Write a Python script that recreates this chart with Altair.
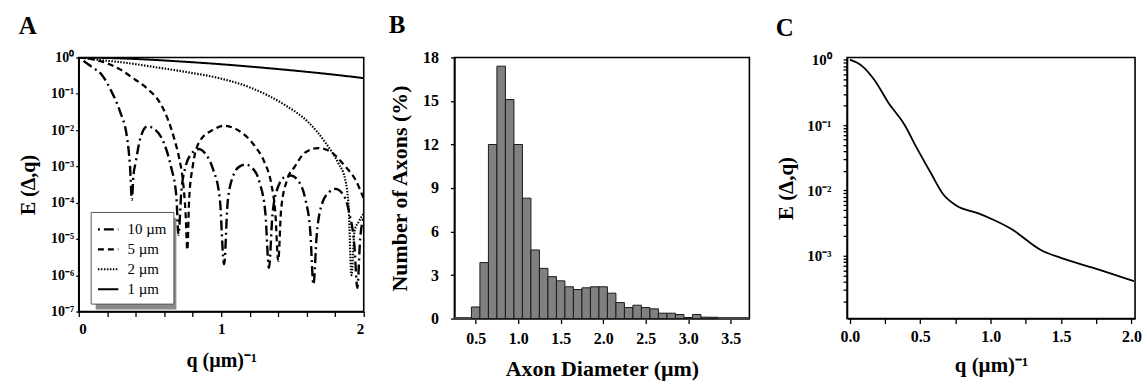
import altair as alt
import pandas as pd

FONT = "Liberation Serif"

# ---------------- Panel A data ----------------
series_labels = ["10 µm", "5 µm", "2 µm", "1 µm"]

q10 = [0.00, 0.05, 0.10, 0.16, 0.23, 0.29, 0.34, 0.36, 0.373, 0.383, 0.40, 0.434, 0.481, 0.54, 0.60,
       0.647, 0.685, 0.70, 0.72, 0.75, 0.79, 0.84, 0.89, 0.94, 0.99, 1.02, 1.045, 1.08, 1.13, 1.17,
       1.22, 1.27, 1.31, 1.335, 1.36, 1.40, 1.45, 1.49, 1.54, 1.59, 1.625, 1.647, 1.67, 1.71, 1.76,
       1.80, 1.85, 1.90, 1.935, 1.955, 1.975, 2.00]
e10 = [1.0, 0.72, 0.52, 0.34, 0.115, 0.032, 5.8e-3, 1.0e-3, 1.2e-4, 5.0e-4, 1.3e-3, 6.3e-3, 1.26e-2, 1.0e-2, 4.2e-3,
       1.0e-3, 1.5e-4, 1.3e-5, 2.0e-4, 1.0e-3, 2.2e-3, 3.0e-3, 2.2e-3, 8.9e-4, 1.3e-4, 2.0e-6, 1.0e-4, 5.0e-4, 1.0e-3, 1.12e-3,
       8.9e-4, 3.5e-4, 5.0e-5, 1.6e-6, 5.0e-5, 2.8e-4, 5.2e-4, 5.6e-4, 4.0e-4, 1.26e-4, 1.6e-5, 5.6e-7, 1.26e-5, 1.0e-4, 2.0e-4,
       2.4e-4, 1.8e-4, 5.0e-5, 6.3e-6, 4.5e-7, 1.0e-5, 4.0e-5]

q5 = [0.00, 0.10, 0.19, 0.29, 0.375, 0.493, 0.564, 0.623, 0.67, 0.706, 0.73, 0.75, 0.762,
      0.775, 0.80, 0.85, 0.94, 1.02, 1.116, 1.234, 1.305, 1.35, 1.38, 1.40,
      1.42, 1.46, 1.517, 1.588, 1.68, 1.776, 1.87, 1.94, 2.00]
e5 = [1.0, 0.89, 0.71, 0.47, 0.28, 0.126, 0.062, 0.021, 5.8e-3, 1.6e-3, 4.4e-4, 5.0e-5, 5.0e-6,
      1.26e-4, 1.0e-3, 5.0e-3, 1.0e-2, 1.32e-2, 1.0e-2, 3.7e-3, 1.26e-3, 3.5e-4, 5.0e-5, 2.5e-6,
      6.3e-5, 4.0e-4, 1.0e-3, 2.4e-3, 3.2e-3, 2.4e-3, 1.0e-3, 4.4e-4, 1.3e-4]

q2 = [0.00, 0.15, 0.30, 0.50, 0.75, 0.975, 1.21, 1.447, 1.61, 1.73, 1.82, 1.87, 1.895, 1.914, 1.935, 1.965, 2.00]
e2 = [1.0, 0.85, 0.74, 0.57, 0.40, 0.275, 0.145, 0.049, 0.0166, 4.6e-3, 1.26e-3, 4.4e-4, 6.3e-5, 1.0e-6, 1.6e-5, 3.0e-5, 5.0e-5]

q1 = [0.00, 0.25, 0.50, 0.75, 1.00, 1.25, 1.50, 1.75, 2.00]
e1 = [1.0, 0.955, 0.87, 0.76, 0.65, 0.54, 0.44, 0.35, 0.27]

# ---------------- Panel B data ----------------
diam = [0.5, 0.6, 0.7, 0.8, 0.9, 1.0, 1.1, 1.2, 1.3, 1.4, 1.5, 1.6, 1.7, 1.8, 1.9, 2.0, 2.1,
        2.2, 2.3, 2.4, 2.5, 2.6, 2.7, 2.8, 2.9, 3.0, 3.1, 3.2, 3.3]
pct = [0.8, 3.86, 12.0, 17.4, 15.1, 12.0, 8.3, 4.73, 3.46, 2.89, 2.6, 2.19, 2.0, 2.12, 2.19, 2.19, 1.75,
       1.1, 0.76, 0.92, 0.76, 0.67, 0.37, 0.37, 0.28, 0.07, 0.28, 0.1, 0.09]

# ---------------- Panel C data ----------------
qc = [0.0, 0.083, 0.177, 0.271, 0.389, 0.472, 0.578, 0.66, 0.755, 0.908, 1.003, 1.144, 1.356, 1.498, 1.734, 2.017]
ec = [1.0, 0.81, 0.48, 0.224, 0.1, 0.046, 0.018, 8.9e-3, 5.9e-3, 4.5e-3, 3.7e-3, 2.6e-3, 1.23e-3, 9.3e-4, 6.5e-4, 4.1e-4]

# ---------------- build tables ----------------
rows = []
for lab, qs, es in zip(series_labels, [q10, q5, q2, q1], [e10, e5, e2, e1]):
    for q, e in zip(qs, es):
        rows.append({"series": lab, "q": q, "E": e})
dfA = pd.DataFrame(rows)
dfB = pd.DataFrame({"d": diam, "pct": pct})
dfC = pd.DataFrame({"q": qc, "E": ec})

sup_expr = ("'10' + ['\u2070','\u207b\u00b9','\u207b\u00b2','\u207b\u00b3','\u207b\u2074',"
            "'\u207b\u2075','\u207b\u2076','\u207b\u2077'][round(-log(datum.value)/LN10)]")

def panel_title(letter):
    return alt.TitleParams(letter, anchor="start", frame="bounds", font=FONT, fontSize=25,
                           fontWeight="bold", color="black", offset=12)

# ---------------- Panel A ----------------
dash_range = [[2, 4, 10, 4], [6, 4], [1.5, 1.5], [1, 0]]
width_range = [2.4, 2.0, 1.6, 2.0]

shadow = alt.Chart(pd.DataFrame({"a": [0]})).mark_rect(color="#8a8a8a").encode(
    x=alt.value(17), x2=alt.value(98), y=alt.value(161), y2=alt.value(253)
)

linesA = alt.Chart(dfA).mark_line(interpolate="monotone", color="black", clip=True).encode(
    x=alt.X("q:Q", scale=alt.Scale(domain=[0, 2], nice=False, zero=False),
            axis=alt.Axis(values=[0, 0.2, 0.4, 0.6, 0.8, 1, 1.2, 1.4, 1.6, 1.8, 2],
                          labelExpr="datum.value % 1 === 0 ? datum.value : ''",
                          title="q (µm)\u207b\u00b9", titlePadding=14, labelFontSize=15, tickSize=5,
                          titleFontSize=20, labelPadding=5)),
    y=alt.Y("E:Q", scale=alt.Scale(type="log", domain=[1e-7, 1], nice=False),
            axis=alt.Axis(values=[1, 0.1, 0.01, 0.001, 1e-4, 1e-5, 1e-6, 1e-7], labelExpr=sup_expr,
                          title="E (\u0394,q)", labelFontSize=14, tickSize=3, titlePadding=12,
                          titleFontSize=20, labelPadding=2)),
    strokeDash=alt.StrokeDash("series:N", sort=series_labels,
                              scale=alt.Scale(domain=series_labels, range=dash_range),
                              legend=alt.Legend(orient="none", legendX=12, legendY=155, title=None,
                                                fillColor="white", strokeColor="#555", padding=6,
                                                symbolType="stroke", symbolSize=420,
                                                symbolStrokeColor="black", symbolStrokeWidth=2.2,
                                                labelFont=FONT, labelFontSize=15, labelFontWeight="normal",
                                                labelColor="black", rowPadding=0, labelOffset=8)),
    strokeWidth=alt.StrokeWidth("series:N", scale=alt.Scale(domain=series_labels, range=width_range),
                                legend=None),
)

chartA = alt.layer(shadow, linesA).properties(width=286, height=255, title=panel_title("A"))

# ---------------- Panel B ----------------
base_rule = alt.Chart(pd.DataFrame({"y": [0]})).mark_rule(color="#444", strokeWidth=3).encode(
    y=alt.Y("y:Q")
)
bars = alt.Chart(dfB).transform_calculate(
    lo="datum.d - 0.05", hi="datum.d + 0.05"
).mark_rect(color="#808080", stroke="#1a1a1a", strokeWidth=1).encode(
    x=alt.X("lo:Q", scale=alt.Scale(domain=[0.25, 3.72], nice=False, zero=False),
            axis=alt.Axis(values=[0.5, 1.0, 1.5, 2.0, 2.5, 3.0, 3.5], format=".1f",
                          title="Axon Diameter (µm)", titlePadding=12, labelFontSize=16, tickSize=5,
                          titleFontSize=22, labelPadding=7)),
    x2="hi:Q",
    y=alt.Y("pct:Q", scale=alt.Scale(domain=[0, 18], nice=False),
            axis=alt.Axis(values=[0, 1.5, 3, 4.5, 6, 7.5, 9, 10.5, 12, 13.5, 15, 16.5, 18],
                          labelExpr="datum.value % 3 === 0 ? datum.value : ''",
                          title="Number of Axons (%)", labelFontSize=16, tickSize=4, titlePadding=11,
                          titleFontSize=22, labelPadding=12)),
    y2=alt.datum(0),
)
chartB = alt.layer(base_rule, bars).properties(width=296, height=262, title=panel_title("B"))

# ---------------- Panel C ----------------
c_minor = []
for dec in [1, 0.1, 0.01, 0.001, 0.0001]:
    for m in [1, 2, 3, 4, 5, 6, 7, 8, 9]:
        v = dec * m
        if 1.1e-4 <= v <= 1.08:
            c_minor.append(v)

lineC = alt.Chart(dfC).mark_line(interpolate="monotone", color="black", strokeWidth=1.8).encode(
    x=alt.X("q:Q", scale=alt.Scale(domain=[-0.02, 2.025], nice=False, zero=False),
            axis=alt.Axis(values=[0, 0.25, 0.5, 0.75, 1.0, 1.25, 1.5, 1.75, 2.0],
                          labelExpr="datum.value % 0.5 === 0 ? format(datum.value, '.1f') : ''",
                          title="q (µm)\u207b\u00b9", titlePadding=10, labelFontSize=16, tickSize=5,
                          titleFontSize=21, labelPadding=5)),
    y=alt.Y("E:Q", scale=alt.Scale(type="log", domain=[1.1e-4, 1.08], nice=False),
            axis=alt.Axis(values=c_minor,
                          labelExpr="indexof([1, 0.1, 0.01, 0.001], datum.value) >= 0 ? " + sup_expr + " : ''",
                          title="E (\u0394,q)", labelFontSize=15, tickSize=4, titlePadding=10,
                          titleFontSize=21, labelPadding=12)),
)
chartC = lineC.properties(width=289, height=262, title=panel_title("C"))

chart = alt.hconcat(chartA, chartB, chartC, spacing=22).properties(
    padding={"left": 18, "top": 11, "right": 4, "bottom": 4}
).configure_axis(
    labelFont=FONT, labelFontWeight="bold", labelColor="black",
    titleFont=FONT, titleFontWeight="bold", titleFontSize=18, titleColor="black",
    domainColor="black", domainWidth=1.5, tickColor="black", tickWidth=1.3, grid=False, labelPadding=3
).configure_view(stroke="black", strokeWidth=1.6)

chart.save("out.html", embed_options={"renderer": "svg", "actions": False})
